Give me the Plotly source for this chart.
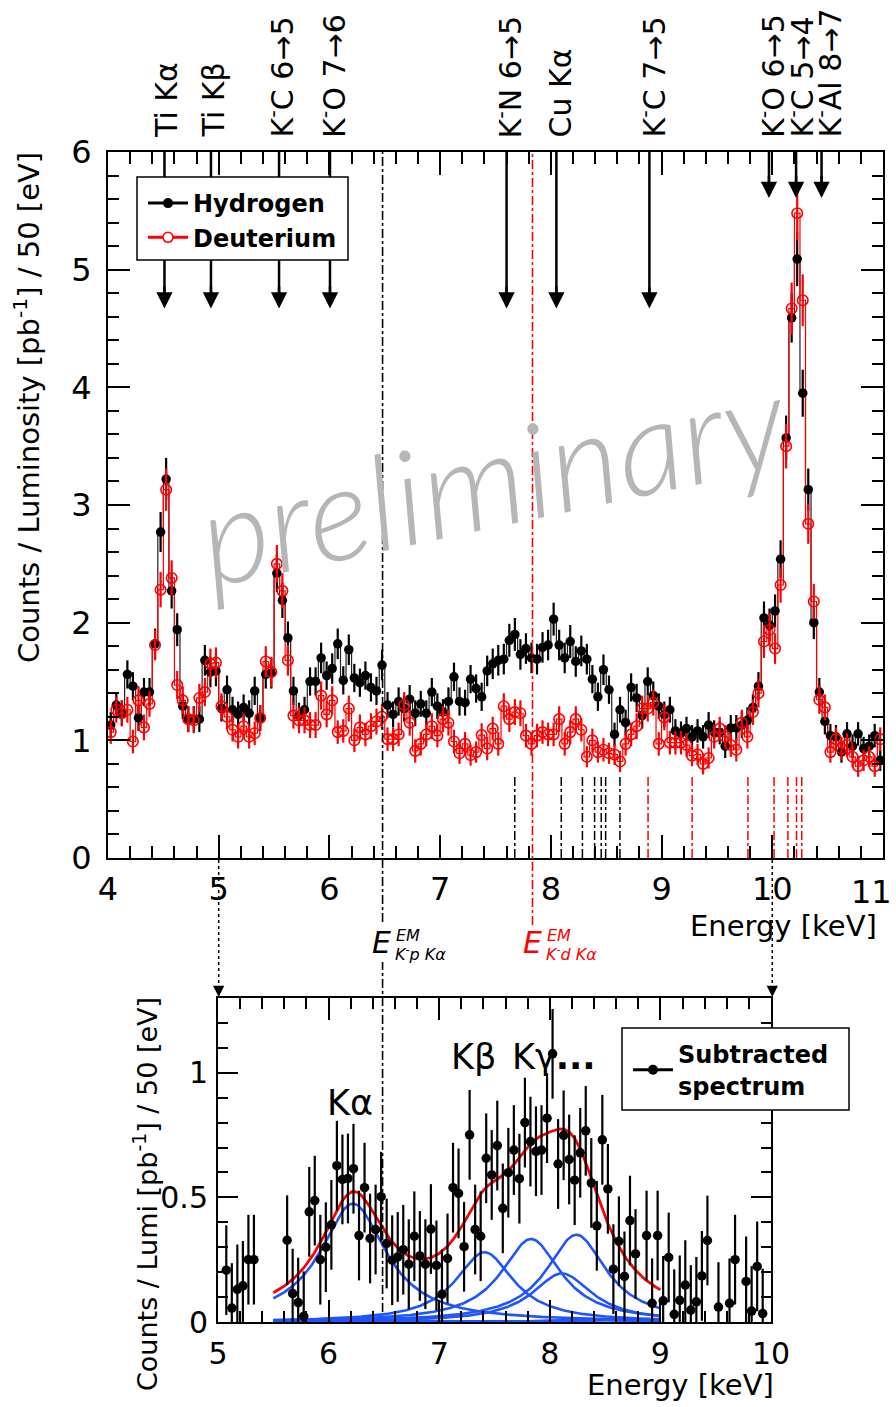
import plotly.graph_objects as go

W, H = 896, 1407


def px(x):
    return x / W


def py(y):
    return 1 - y / H


# ---------------- top panel data (50 eV bins, 4-11 keV) ----------------
BIN_LO = 4.0
BIN_W = 0.05

hydrogen = [
    1.13, 1.30, 1.23, 1.56, 1.46, 1.19, 1.41, 1.41, 1.82, 2.77,
    3.22, 2.27, 1.94, 1.29, 1.18, 1.18, 1.18, 1.68, 1.58, 1.59,
    1.27, 1.43, 1.26, 1.22, 1.28, 1.23, 1.42, 1.19, 1.56, 1.57,
    2.42, 2.19, 1.87, 1.42, 1.21, 1.26, 1.50, 1.50, 1.70, 1.55,
    1.61, 1.82, 1.51, 1.77, 1.53, 1.49, 1.55, 1.45, 1.42, 1.64,
    1.30, 1.22, 1.33, 1.27, 1.35, 1.23, 1.31, 1.23, 1.41, 1.29,
    1.24, 1.33, 1.54, 1.33, 1.32, 1.52, 1.44, 1.37, 1.59, 1.65,
    1.68, 1.69, 1.85, 1.90, 1.73, 1.78, 1.70, 1.69, 1.79, 1.81,
    2.03, 1.81, 1.70, 1.84, 1.67, 1.76, 1.69, 1.52, 1.37, 1.60,
    1.43, 1.05, 1.26, 1.15, 1.45, 1.36, 1.21, 1.50, 1.38, 1.29,
    1.22, 1.26, 1.08, 1.06, 1.10, 1.03, 1.08, 1.03, 1.13, 1.07,
    1.065, 0.95, 1.105, 1.105, 1.13, 1.17, 1.28, 1.46, 2.04, 1.98,
    2.10, 2.54, 3.57, 4.59, 5.09, 3.95, 3.13, 2.00, 1.41, 1.16,
    1.04, 1.03, 0.90, 1.055, 0.95, 1.055, 0.93, 0.95, 1.04, 0.83,
]
hydrogen_err = [
    .11, .11, .11, .12, .12, .11, .12, .12, .13, .17,
    .18, .15, .14, .11, .11, .11, .11, .13, .13, .13,
    .11, .12, .11, .11, .11, .11, .12, .11, .12, .13,
    .16, .15, .14, .12, .11, .11, .12, .12, .13, .12,
    .13, .13, .12, .13, .12, .12, .12, .12, .12, .13,
    .11, .11, .12, .11, .12, .11, .11, .11, .12, .11,
    .11, .12, .12, .12, .11, .12, .12, .12, .13, .13,
    .13, .13, .14, .14, .13, .13, .13, .13, .13, .13,
    .14, .13, .13, .14, .13, .13, .13, .12, .12, .13,
    .12, .10, .11, .11, .12, .12, .11, .12, .12, .11,
    .11, .11, .10, .10, .10, .10, .10, .10, .11, .10,
    .10, .10, .11, .11, .11, .11, .11, .12, .14, .14,
    .14, .16, .19, .21, .23, .20, .18, .14, .12, .11,
    .10, .10, .09, .10, .10, .10, .10, .10, .10, .09,
]
deuterium = [
    1.07, 1.26, 1.23, 1.26, 0.99, 1.34, 1.11, 1.31, 1.81, 2.28,
    3.13, 2.38, 1.47, 1.34, 1.18, 1.17, 1.36, 1.41, 1.65, 1.66,
    1.29, 1.20, 1.09, 1.03, 1.12, 1.03, 1.06, 1.19, 1.67, 1.58,
    2.50, 2.27, 1.68, 1.21, 1.17, 1.17, 1.13, 1.13, 1.38, 1.22,
    1.34, 1.07, 1.08, 1.27, 1.00, 1.11, 1.05, 1.12, 1.16, 1.20,
    1.01, 1.01, 1.05, 1.30, 1.15, 0.91, 0.97, 1.05, 1.12, 1.04,
    1.18, 1.15, 0.99, 0.89, 0.97, 0.875, 0.90, 1.045, 0.93, 1.10,
    0.97, 1.29, 1.18, 1.24, 1.23, 1.04, 0.97, 1.04, 1.07, 1.05,
    1.05, 1.18, 0.97, 1.07, 1.18, 1.09, 0.86, 1.00, 0.90, 0.92,
    0.89, 0.88, 0.82, 0.97, 1.05, 1.12, 1.27, 1.27, 1.32, 0.97,
    1.195, 0.98, 0.98, 0.98, 0.96, 0.87, 0.88, 0.80, 0.85, 1.03,
    1.10, 1.03, 0.96, 0.92, 1.15, 1.03, 1.24, 1.40, 1.84, 1.94,
    1.78, 2.32, 3.50, 4.67, 5.48, 4.74, 2.84, 2.18, 1.345, 1.28,
    0.90, 1.01, 0.93, 0.96, 0.86, 0.78, 0.83, 0.86, 0.78, 1.01,
]
deuterium_err = [
    .10, .11, .11, .11, .10, .12, .11, .11, .13, .15,
    .18, .15, .12, .12, .11, .11, .12, .12, .13, .13,
    .11, .11, .10, .10, .11, .10, .10, .11, .13, .13,
    .16, .15, .13, .11, .11, .11, .11, .11, .12, .11,
    .12, .10, .10, .11, .10, .11, .10, .11, .11, .11,
    .10, .10, .10, .11, .11, .10, .10, .10, .11, .10,
    .11, .11, .10, .09, .10, .09, .09, .10, .10, .10,
    .10, .11, .11, .11, .11, .10, .10, .10, .10, .10,
    .10, .11, .10, .10, .11, .10, .09, .10, .09, .10,
    .09, .09, .09, .10, .10, .11, .11, .11, .11, .10,
    .11, .10, .10, .10, .10, .09, .09, .09, .09, .10,
    .10, .10, .10, .10, .11, .10, .11, .12, .14, .14,
    .13, .15, .19, .22, .23, .22, .17, .15, .12, .11,
    .09, .10, .10, .10, .09, .09, .09, .09, .09, .10,
]
energy_top = [round(BIN_LO + BIN_W * (i + 0.5), 3) for i in range(len(hydrogen))]
top_ticks = [4, 5, 6, 7, 8, 9, 10, 11]
top_tick_text = ["4", "5", "6", "7", "8", "9", "10", ""]   # "11" drawn at the edge below

# lines marked by arrows at the top
line_labels = ["Ti Kα", "Ti Kβ", "K<sup>-</sup>C 6→5", "K<sup>-</sup>O 7→6",
               "K<sup>-</sup>N 6→5", "Cu Kα", "K<sup>-</sup>C 7→5",
               "K<sup>-</sup>O 6→5", "K<sup>-</sup>C 5→4", "K<sup>-</sup>Al 8→7"]
line_energies = [4.51, 4.93, 5.545, 6.005, 7.60, 8.05, 8.89, 9.97, 10.215, 10.445]
arrow_tips = [4.67, 4.67, 4.67, 4.67, 4.67, 4.67, 4.67, 5.61, 5.61, 5.61]
label_px = [166, 213, 281, 332, 509, 560, 653, 771, 801, 829]

# K- p / K- d transition energies (EM)
kp_lines = [7.674, 8.094, 8.285, 8.395, 8.455, 8.495, 8.624]
kd_lines = [8.878, 9.276, 9.78, 10.016, 10.141, 10.219, 10.266]
kp_kalpha = 6.48
kd_kalpha = 7.834

# ---------------- bottom panel: subtracted spectrum ----------------
SUB_LO = 5.0
subtracted = [
    None, .208, .056, .131, .145, .25, .25, None, None, None,
    None, None, .328, .114, .078, .023, .442, .487, .25, .30,
    .39, .627, .572, .576, .615, .347, .539, .335, .371, .503,
    .315, .248, .261, .29, .232, .344, .265, .232, .373, .227,
    .111, .255, .539, .516, .302, .751, .371, .344, .657, .59,
    .708, .456, .599, .69, .575, .80, .724, .685, .69, .818,
    1.076, .634, .749, .652, .569, .679, .767, .558, .386, .731,
    .534, .212, .324, .183, .407, .273, None, .347, .075, .347,
    .085, .259, .031, .087, .148, .048, .081, .185, .327, None,
    .06, None, .075, .25, None, .163, .044, .223, .034, None,
]
subtracted_err = 0.18
energy_sub = [round(SUB_LO + BIN_W * (i + 0.5), 3) for i in range(len(subtracted))]

# fit components (Lorentzian lines: centre, amplitude, half width)
fit_centers = [6.22, 7.41, 7.83, 8.11, 8.24, 8.33, 8.40, 8.46]
fit_amps = [0.475, 0.28, 0.333, 0.195, 0.35, 0.012, 0.010, 0.008]
fit_hwhm = [0.36, 0.32, 0.33, 0.33, 0.33, 0.33, 0.33, 0.33]
FIT_LO, FIT_HI = 5.5, 9.0
fit_E = [FIT_LO + 0.01 * i for i in range(int(round((FIT_HI - FIT_LO) / 0.01)) + 1)]
components = [[a / (1 + ((e - c) / w) ** 2) for e in fit_E]
              for c, a, w in zip(fit_centers, fit_amps, fit_hwhm)]
fit_total = [sum(col) for col in zip(*components)]

FONT = "DejaVu Sans"
RED = "#ff0000"
BLUE = "#1f55ff"

fig = go.Figure()

# top panel traces
fig.add_trace(go.Scatter(x=energy_top, y=hydrogen, mode="lines",
                         line=dict(color="#222222", width=1.2, shape="hvh"),
                         showlegend=False, hoverinfo="skip", xaxis="x", yaxis="y"))
fig.add_trace(go.Scatter(x=energy_top, y=deuterium, mode="lines",
                         line=dict(color=RED, width=1.2, shape="hvh"),
                         showlegend=False, hoverinfo="skip", xaxis="x", yaxis="y"))
fig.add_trace(go.Scatter(x=energy_top, y=hydrogen, mode="markers",
                         marker=dict(symbol="circle", size=9.5, color="black"),
                         error_y=dict(type="data", array=hydrogen_err, color="black",
                                      thickness=2.2, width=0),
                         showlegend=False, xaxis="x", yaxis="y"))
fig.add_trace(go.Scatter(x=energy_top, y=deuterium, mode="markers",
                         marker=dict(symbol="circle-open", size=10.5, color=RED,
                                     line=dict(width=1.6, color=RED)),
                         error_y=dict(type="data", array=deuterium_err, color=RED,
                                      thickness=2.2, width=0),
                         showlegend=False, xaxis="x", yaxis="y"))
# legend entries
fig.add_trace(go.Scatter(x=[None], y=[None], mode="lines+markers", name="<b>Hydrogen</b>",
                         line=dict(color="black", width=3),
                         marker=dict(symbol="circle", size=10, color="black"),
                         legend="legend", legendgroup="h", xaxis="x", yaxis="y"))
fig.add_trace(go.Scatter(x=[None], y=[None], mode="lines+markers", name="<b>Deuterium</b>",
                         line=dict(color=RED, width=3),
                         marker=dict(symbol="circle", size=10, color="white",
                                     line=dict(width=1.6, color=RED)),
                         legend="legend", legendgroup="d", xaxis="x", yaxis="y"))

# bottom panel traces
for comp in components:
    fig.add_trace(go.Scatter(x=fit_E, y=comp, mode="lines",
                             line=dict(color=BLUE, width=2.6), showlegend=False,
                             hoverinfo="skip", xaxis="x2", yaxis="y2"))
fig.add_trace(go.Scatter(x=fit_E, y=fit_total, mode="lines",
                         line=dict(color=RED, width=2.8), showlegend=False,
                         hoverinfo="skip", xaxis="x2", yaxis="y2"))
fig.add_trace(go.Scatter(x=energy_sub, y=subtracted, mode="markers",
                         marker=dict(symbol="circle", size=9.5, color="black"),
                         error_y=dict(type="constant", value=subtracted_err, color="black",
                                      thickness=2.2, width=0),
                         showlegend=False, xaxis="x2", yaxis="y2"))
fig.add_trace(go.Scatter(x=[None], y=[None], mode="lines+markers",
                         name="<b>Subtracted<br>spectrum</b>",
                         line=dict(color="black", width=3),
                         marker=dict(symbol="circle", size=10, color="black"),
                         legend="legend2", xaxis="x2", yaxis="y2"))

# ---------------- axes ----------------
axis_common = dict(showgrid=False, zeroline=False, showline=True, linecolor="black",
                   linewidth=2, mirror="allticks", ticks="inside", tickcolor="black",
                   tickwidth=2, automargin=False, fixedrange=True,
                   tickfont=dict(family=FONT, size=32, color="black"))

fig.update_layout(
    width=W, height=H, margin=dict(l=0, r=0, t=0, b=0),
    paper_bgcolor="white", plot_bgcolor="white",
    xaxis=dict(axis_common, domain=[px(108), px(883)], range=[4, 11], anchor="y",
               tickmode="array", tickvals=top_ticks, ticktext=top_tick_text,
               ticklen=23, ticklabelstandoff=2,
               minor=dict(dtick=0.2, tick0=4, ticklen=12, tickwidth=2, tickcolor="black",
                          ticks="inside")),
    yaxis=dict(axis_common, domain=[py(858), py(152)], range=[0, 6], anchor="x",
               dtick=1, ticklen=22, ticklabelstandoff=8,
               minor=dict(dtick=0.2, ticklen=11, tickwidth=2, tickcolor="black", ticks="inside")),
    xaxis2=dict(axis_common, domain=[px(218), px(771)], range=[5, 10], anchor="y2",
                dtick=1, ticklen=22, ticklabelstandoff=4,
                tickfont=dict(family=FONT, size=30, color="black"),
                minor=dict(dtick=0.2, ticklen=11, tickwidth=2, tickcolor="black", ticks="inside")),
    yaxis2=dict(axis_common, domain=[py(1322), py(998)], range=[0, 1.3], anchor="x2",
                dtick=0.5, ticklen=20, ticklabelstandoff=2,
                tickfont=dict(family=FONT, size=30, color="black"),
                minor=dict(dtick=0.1, ticklen=10, tickwidth=2, tickcolor="black", ticks="inside")),
    legend=dict(x=px(143), y=py(181), xanchor="left", yanchor="top",
                bgcolor="rgba(0,0,0,0)", borderwidth=0, traceorder="grouped",
                tracegroupgap=0, itemwidth=40,
                font=dict(family=FONT, size=24, color="black")),
    legend2=dict(x=px(628), y=py(1032), xanchor="left", yanchor="top",
                 bgcolor="rgba(0,0,0,0)", borderwidth=0, valign="middle", itemwidth=40,
                 font=dict(family=FONT, size=24, color="black")),
    showlegend=True,
)

shapes = []
# long EM Kα markers
dashdot = dict(width=1.6, dash="dashdot")
shapes.append(dict(type="line", xref="x", yref="paper", x0=kp_kalpha, x1=kp_kalpha,
                   y0=py(922), y1=py(152), line=dict(color="black", **dashdot)))
shapes.append(dict(type="line", xref="x", yref="paper", x0=kp_kalpha, x1=kp_kalpha,
                   y0=py(1312), y1=py(962), line=dict(color="black", **dashdot)))
shapes.append(dict(type="line", xref="x", yref="paper", x0=kd_kalpha, x1=kd_kalpha,
                   y0=py(925), y1=py(152), line=dict(color=RED, **dashdot)))
# transition markers near the axis
for e in kp_lines:
    shapes.append(dict(type="line", xref="x", yref="y", x0=e, x1=e, y0=0, y1=0.7,
                       line=dict(color="black", width=1.5, dash="dashdot")))
for e in kd_lines:
    shapes.append(dict(type="line", xref="x", yref="y", x0=e, x1=e, y0=0, y1=0.7,
                       line=dict(color=RED, width=1.5, dash="dashdot")))
# arrow shafts
for e, tip in zip(line_energies, arrow_tips):
    shapes.append(dict(type="line", xref="x", yref="y", x0=e, x1=e, y0=6, y1=tip + 0.08,
                       line=dict(color="black", width=2.5)))
# dotted guide lines between the panels
for e in [5, 10]:
    shapes.append(dict(type="line", xref="x", yref="paper", x0=e, x1=e,
                       y0=py(860), y1=py(990), line=dict(color="black", width=1.5, dash="dot")))
# legend boxes
shapes.append(dict(type="rect", xref="paper", yref="paper", x0=px(137), x1=px(348),
                   y0=py(260), y1=py(177), line=dict(color="black", width=1.5),
                   fillcolor="white", layer="above"))
shapes.append(dict(type="rect", xref="paper", yref="paper", x0=px(622), x1=px(849),
                   y0=py(1110), y1=py(1028), line=dict(color="black", width=1.5),
                   fillcolor="white", layer="above"))

annotations = []
for lab, e, tip, lx in zip(line_labels, line_energies, arrow_tips, label_px):
    annotations.append(dict(text=lab, xref="paper", yref="paper", x=px(lx), y=py(140),
                            xanchor="center", yanchor="bottom", textangle=-90,
                            showarrow=False, font=dict(family=FONT, size=30, color="black")))
    annotations.append(dict(text="", xref="x", yref="y", x=e, y=tip, axref="x", ayref="y",
                            ax=e, ay=tip + 0.2, showarrow=True, arrowhead=2, arrowsize=1.3,
                            arrowwidth=2.5, arrowcolor="black"))
for e in [5, 10]:
    annotations.append(dict(text="", xref="x", yref="paper", x=e, y=py(997), ax=0, ay=-9,
                            showarrow=True, arrowhead=2, arrowsize=1.5, arrowwidth=1.5,
                            arrowcolor="black"))
# last tick label of the top axis, kept inside the page like the original
annotations.append(dict(text="11", xref="paper", yref="paper", x=px(894), y=py(871),
                        xanchor="right", yanchor="top", showarrow=False,
                        font=dict(family=FONT, size=32, color="black")))
# EM energy labels
for xoff, col, sub in [(0, "black", "K<sup>-</sup>p Kα"), (151, RED, "K<sup>-</sup>d Kα")]:
    annotations.append(dict(text="<i>E</i>", xref="paper", yref="paper", x=px(381 + xoff),
                            y=py(942), xanchor="center", yanchor="middle", showarrow=False,
                            font=dict(family=FONT, size=30, color=col)))
    annotations.append(dict(text="<i>EM</i>", xref="paper", yref="paper", x=px(394 + xoff),
                            y=py(935), xanchor="left", yanchor="middle", showarrow=False,
                            font=dict(family=FONT, size=16, color=col)))
    annotations.append(dict(text="<i>" + sub + "</i>", xref="paper", yref="paper",
                            x=px(393 + xoff), y=py(953), xanchor="left", yanchor="middle",
                            showarrow=False, font=dict(family=FONT, size=16, color=col)))
# watermark
annotations.append(dict(text="preliminary", xref="paper", yref="paper", x=px(492), y=py(476),
                        xanchor="center", yanchor="middle", textangle=-12, showarrow=False,
                        font=dict(family="Lato", size=132, color="#b6b6b6", weight=300,
                                  style="italic")))
# axis titles
annotations.append(dict(text="Counts / Luminosity [pb<sup>-1</sup>] / 50 [eV]", xref="paper",
                        yref="paper", x=px(27), y=py(408), textangle=-90, showarrow=False,
                        xanchor="center", yanchor="middle",
                        font=dict(family=FONT, size=29, color="black")))
annotations.append(dict(text="Energy [keV]", xref="paper", yref="paper", x=px(879), y=py(926),
                        xanchor="right", yanchor="middle", showarrow=False,
                        font=dict(family=FONT, size=29, color="black")))
annotations.append(dict(text="Counts / Lumi [pb<sup>-1</sup>] / 50 [eV]", xref="paper",
                        yref="paper", x=px(145), y=py(1194), textangle=-90, showarrow=False,
                        xanchor="center", yanchor="middle",
                        font=dict(family=FONT, size=27, color="black")))
annotations.append(dict(text="Energy [keV]", xref="paper", yref="paper", x=px(776), y=py(1385),
                        xanchor="right", yanchor="middle", showarrow=False,
                        font=dict(family=FONT, size=29, color="black")))
# peak labels in the bottom panel
annotations.append(dict(text="Kα", xref="paper", yref="paper", x=px(350), y=py(1103),
                        xanchor="center", yanchor="middle", showarrow=False,
                        font=dict(family=FONT, size=35, color="black")))
annotations.append(dict(text="Kβ", xref="paper", yref="paper", x=px(474), y=py(1057),
                        xanchor="center", yanchor="middle", showarrow=False,
                        font=dict(family=FONT, size=35, color="black")))
annotations.append(dict(text="Kγ<b>...</b>", xref="paper", yref="paper", x=px(510), y=py(1057),
                        xanchor="left", yanchor="middle", showarrow=False,
                        font=dict(family=FONT, size=35, color="black")))

fig.update_layout(shapes=shapes, annotations=annotations)
fig.write_html("out.html")
